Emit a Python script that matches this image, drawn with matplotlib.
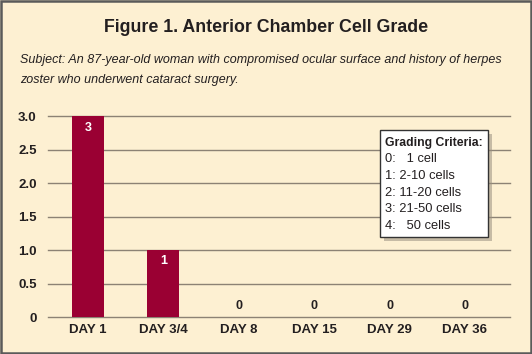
import matplotlib
matplotlib.use("Agg")
import matplotlib.pyplot as plt
from matplotlib import font_manager
from matplotlib.patches import Rectangle

names = {f.name for f in font_manager.fontManager.ttflist}
COND = "Liberation Sans Narrow" if "Liberation Sans Narrow" in names else "Liberation Sans"
SANS = "Liberation Sans"

categories = ["DAY 1", "DAY 3/4", "DAY 8", "DAY 15", "DAY 29", "DAY 36"]
values = [3, 1, 0, 0, 0, 0]
yticks = [0, 0.5, 1.0, 1.5, 2.0, 2.5, 3.0]
ytick_labels = ["0", "0.5", "1.0", "1.5", "2.0", "2.5", "3.0"]
legend_title = "Grading Criteria:"
legend_lines = ["0:   1 cell", "1: 2-10 cells", "2: 11-20 cells", "3: 21-50 cells", "4:   50 cells"]

BG = "#fdf0d2"
BAR = "#9a0033"
GRID = "#8c8274"
INK = "#231f20"

fig = plt.figure(figsize=(5.32, 3.54), dpi=100, facecolor=BG)
fig.patches.append(Rectangle((0.002, 0.003), 0.996, 0.994, transform=fig.transFigure,
                             fill=False, edgecolor="#5a5a5a", linewidth=1.8))

ax = fig.add_axes([0.090, 0.1045, 0.869, 0.567])
ax.set_facecolor(BG)
x = list(range(len(categories)))
ax.bar(x, values, width=0.43, color=BAR, zorder=3)
ax.set_xlim(-0.53, 5.6)
ax.set_ylim(0, 3.0)
for t in yticks:
    ax.axhline(t, color=GRID, linewidth=1.0, zorder=1, clip_on=False)
for s in ax.spines.values():
    s.set_visible(False)
ax.set_yticks(yticks)
ax.set_yticklabels(ytick_labels, fontfamily=COND, fontweight="bold", fontsize=9.5, color=INK)
ax.set_xticks(x)
ax.set_xticklabels(categories, fontfamily=COND, fontweight="bold", fontsize=9.5, color=INK)
ax.tick_params(length=0, pad=5)
ax.tick_params(axis="y", pad=8)

for xi, v in zip(x, values):
    if v > 0:
        ax.text(xi, v - 0.17, str(v), ha="center", va="center", color="white",
                fontfamily=COND, fontweight="bold", fontsize=9, zorder=4)
    else:
        ax.text(xi, 0.16, str(v), ha="center", va="center", color=INK,
                fontfamily=COND, fontweight="bold", fontsize=9, zorder=4)

fig.text(0.5, 0.922, "Figure 1. Anterior Chamber Cell Grade", ha="center", va="center",
         fontfamily=COND, fontweight="bold", fontsize=12.8, color=INK)
fig.text(0.038, 0.83, "Subject: An 87-year-old woman with compromised ocular surface and history of herpes",
         ha="left", va="center", fontfamily=COND, fontstyle="italic", fontsize=9.0, color=INK)
fig.text(0.038, 0.773, "zoster who underwent cataract surgery.",
         ha="left", va="center", fontfamily=COND, fontstyle="italic", fontsize=9.0, color=INK)

# legend box (shadow + box)
W, H = 532.0, 354.0
bx0, by0, bx1, by1 = 380, 130, 488, 237
fig.patches.append(Rectangle(((bx0 + 4) / W, 1 - (by1 + 4) / H), (bx1 - bx0) / W, (by1 - by0) / H,
                             transform=fig.transFigure, facecolor="#9a9080", edgecolor="none", alpha=0.55, zorder=5))
fig.patches.append(Rectangle((bx0 / W, 1 - by1 / H), (bx1 - bx0) / W, (by1 - by0) / H,
                             transform=fig.transFigure, facecolor="white", edgecolor="#333333",
                             linewidth=1.0, zorder=6))
fig.text((bx0 + 5) / W, 1 - 143 / H, legend_title, ha="left", va="center", fontfamily=SANS,
         fontweight="bold", fontsize=8.8, color=INK, zorder=7)
for i, line in enumerate(legend_lines):
    fig.text((bx0 + 5) / W, 1 - (159 + i * 16.8) / H, line, ha="left", va="center", fontfamily=SANS,
             fontsize=9.3, color=INK, zorder=7)

fig.savefig("out.png", dpi=100, facecolor=BG)
